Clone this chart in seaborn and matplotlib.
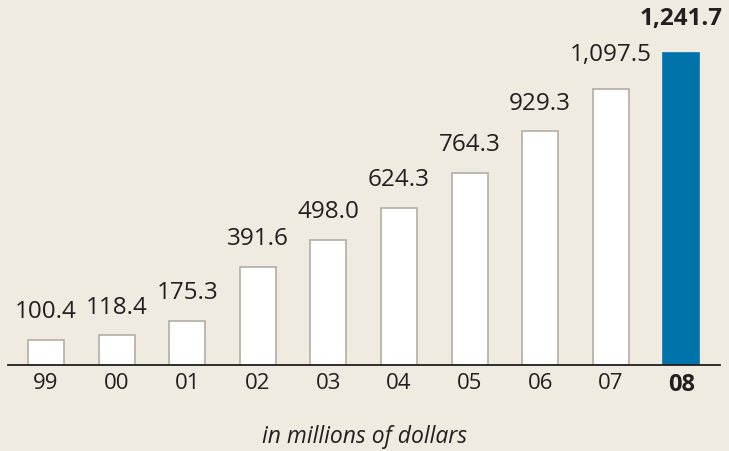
import matplotlib
matplotlib.use("Agg")
import matplotlib.pyplot as plt
import seaborn as sns

years = ["99", "00", "01", "02", "03", "04", "05", "06", "07", "08"]
values = [100.4, 118.4, 175.3, 391.6, 498.0, 624.3, 764.3, 929.3, 1097.5, 1241.7]
labels = ["100.4", "118.4", "175.3", "391.6", "498.0", "624.3", "764.3", "929.3", "1,097.5", "1,241.7"]

bg = "#efebe0"
blue = "#0073aa"
text_col = "#231f20"

sns.set_style("white")
plt.rcParams["font.family"] = ["Open Sans", "DejaVu Sans"]

fig = plt.figure(figsize=(7.29, 4.51), dpi=100, facecolor=bg)
ax = fig.add_axes([8 / 729, 1 - 365 / 451, 712 / 729, 365 / 451])
ax.set_facecolor(bg)

colors = ["white"] * 9 + [blue]
sns.barplot(x=years, y=values, hue=years, palette=colors, legend=False,
            width=0.51, ax=ax, saturation=1)
for i, p in enumerate(ax.patches):
    p.set_edgecolor("#b3ada3" if i < 9 else blue)
    p.set_linewidth(1.2)

for i, (v, lab) in enumerate(zip(values, labels)):
    last = i == len(values) - 1
    off = 135 if i >= 8 else 110
    ax.text(i, v + off, lab, ha="center", va="center", fontsize=17.5,
            color=text_col, fontweight="bold" if last else "normal")

ax.set_xlim(-0.538, 9.547)
ax.set_ylim(0, 1452)
ax.set_yticks([])
ax.set_xlabel("")
ax.set_ylabel("")
for s in ["left", "right", "top"]:
    ax.spines[s].set_visible(False)
ax.spines["bottom"].set_color(text_col)
ax.spines["bottom"].set_linewidth(1.3)
ax.tick_params(axis="x", length=0, pad=6, labelsize=16, colors=text_col)
ax.get_xticklabels()[-1].set_fontweight("bold")
ax.get_xticklabels()[-1].set_fontsize(17)

fig.text(0.5, 1 - 437 / 451, "in millions of dollars", ha="center", va="center",
         fontsize=16.5, style="italic", color=text_col)

fig.savefig("out.png", dpi=100, facecolor=bg)
